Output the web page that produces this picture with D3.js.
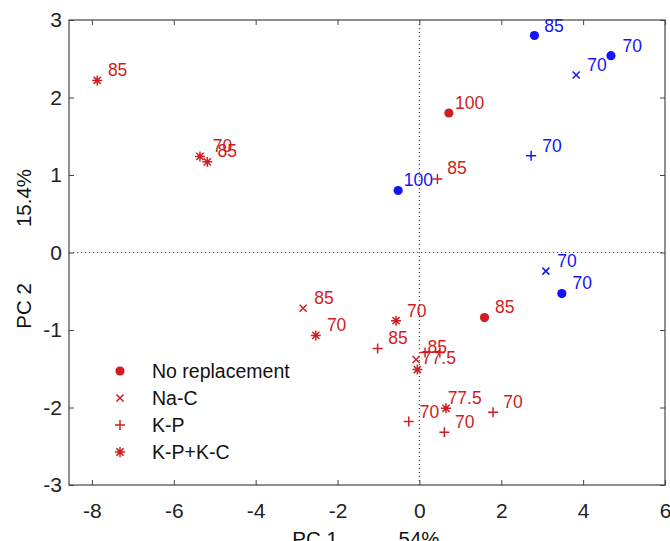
<!DOCTYPE html>
<html>
<head>
<meta charset="utf-8">
<script src="https://cdn.jsdelivr.net/npm/d3@7"></script>
<style>
body{margin:0;background:#fff;}
svg{display:block;font-family:"Liberation Sans",Arial,sans-serif;}
</style>
</head>
<body>
<svg id="scatter"></svg>
<script>
// legend / marker categories
var groups = ["No replacement","Na-C","K-P","K-P+K-C"];

// red series
var redType = ["K-P+K-C","K-P+K-C","K-P+K-C","No replacement","K-P","No replacement",
               "K-P+K-C","K-P","Na-C","K-P+K-C","Na-C","K-P+K-C","K-P","K-P",
               "K-P+K-C","K-P","K-P","K-P"];
var redX = [-7.87,-5.36,-5.18,0.72,0.44,1.59,-0.57,-1.02,-2.84,-2.53,-0.08,-0.05,0.14,0.50,0.65,1.80,-0.26,0.61];
var redY = [2.22,1.24,1.17,1.80,0.95,-0.84,-0.88,-1.24,-0.72,-1.07,-1.38,-1.51,-1.29,-1.29,-2.01,-2.06,-2.18,-2.32];
var redLabel = ["85","70","85","100","85","85","70","85","85","70","85","77.5","","","77.5","70","70","70"];
var redLabelX = [-7.61,-5.05,-4.93,0.87,0.68,1.85,-0.30,-0.76,-2.57,-2.26,0.20,0.06,0,0,0.69,2.05,0.01,0.87];
var redLabelY = [2.28,1.30,1.23,1.85,1.01,-0.78,-0.83,-1.18,-0.66,-1.01,-1.30,-1.44,0,0,-1.95,-2.00,-2.13,-2.26];

// blue series
var blueType = ["No replacement","No replacement","Na-C","K-P","No replacement","Na-C","No replacement"];
var blueX = [2.81,4.68,3.83,2.73,-0.52,3.09,3.48];
var blueY = [2.80,2.54,2.29,1.25,0.80,-0.24,-0.53];
var blueLabel = ["85","70","70","70","100","70","70"];
var blueLabelX = [3.05,4.96,4.10,3.00,-0.38,3.37,3.74];
var blueLabelY = [2.85,2.59,2.34,1.30,0.86,-0.19,-0.47];

// axes
var xTicks = [-8,-6,-4,-2,0,2,4,6];
var yTicks = [-3,-2,-1,0,1,2,3];

var red = "#d01d22";
var blue = "#1414f5";

var markerPath = function(type)
{
    if(type == "K-P") return "M-5,0H5M0,-5V5";
    if(type == "Na-C") return "M-3.5,-3.5L3.5,3.5M-3.5,3.5L3.5,-3.5";
    return "M-5,0H5M0,-5V5M-3.6,-3.6L3.6,3.6M-3.6,3.6L3.6,-3.6";
}

var drawMarker = function(sel,type,color)
{
    if(type == "No replacement")
    {
        sel.append("circle")
            .attr("r",4.6)
            .attr("fill",color);
    }
    else
    {
        sel.append("path")
            .attr("d",markerPath(type))
            .attr("fill","none")
            .attr("stroke",color)
            .attr("stroke-width",1.5);
    }
}

var toPoints = function(xs,ys,types,labels,lxs,lys,color)
{
    return xs.map(function(x,i)
    {
        return {x:x,y:ys[i],type:types[i],label:labels[i],lx:lxs[i],ly:lys[i],color:color};
    });
}

var initGraph = function(target)
{
    var screen = {width:670, height:541};
    var margins = {top:20,bottom:56,left:69,right:5};
    var graph =
    {
        width:screen.width-margins.left-margins.right,
        height:screen.height-margins.top-margins.bottom
    };

    var svg = d3.select(target)
        .attr("width",screen.width)
        .attr("height",screen.height);

    var xScale = d3.scaleLinear()
        .domain([-8.56,6])
        .range([margins.left,margins.left+graph.width]);

    var yScale = d3.scaleLinear()
        .domain([-3,3])
        .range([margins.top+graph.height,margins.top]);

    //zero lines
    svg.append("line")
        .attr("x1",xScale(0)).attr("x2",xScale(0))
        .attr("y1",yScale(3)).attr("y2",yScale(-3))
        .attr("stroke","#555").attr("stroke-width",1.2)
        .attr("stroke-dasharray","1.3,2.7");
    svg.append("line")
        .attr("x1",xScale(-8.56)).attr("x2",xScale(6))
        .attr("y1",yScale(0)).attr("y2",yScale(0))
        .attr("stroke","#555").attr("stroke-width",1.2)
        .attr("stroke-dasharray","1.3,2.7");

    var fmt = function(d){ return String(d); };

    var xAxis = d3.axisBottom(xScale).tickValues(xTicks).tickFormat(fmt)
        .tickSizeInner(-5).tickSizeOuter(0).tickPadding(18);
    var yAxis = d3.axisLeft(yScale).tickValues(yTicks).tickFormat(fmt)
        .tickSizeInner(-5).tickSizeOuter(0).tickPadding(7);
    var xTop = d3.axisTop(xScale).tickValues(xTicks).tickFormat("")
        .tickSizeInner(-5).tickSizeOuter(0);
    var yRight = d3.axisRight(yScale).tickValues(yTicks).tickFormat("")
        .tickSizeInner(-5).tickSizeOuter(0);

    var axes = svg.append("g");
    axes.append("g")
        .attr("transform","translate(0,"+(margins.top+graph.height)+")")
        .call(xAxis);
    axes.append("g")
        .attr("transform","translate("+margins.left+",0)")
        .call(yAxis);
    axes.append("g")
        .attr("transform","translate(0,"+margins.top+")")
        .call(xTop);
    axes.append("g")
        .attr("transform","translate("+(margins.left+graph.width)+",0)")
        .call(yRight);

    axes.selectAll(".domain").remove();
    axes.selectAll(".tick line").attr("stroke","#444");
    axes.selectAll(".tick text")
        .attr("font-size",21)
        .attr("fill","#222")
        .attr("font-family","Liberation Sans, Arial, sans-serif");

    //box
    svg.append("rect")
        .attr("x",margins.left).attr("y",margins.top)
        .attr("width",graph.width).attr("height",graph.height)
        .attr("fill","none").attr("stroke","#444").attr("stroke-width",1.2);

    //points
    var points = toPoints(redX,redY,redType,redLabel,redLabelX,redLabelY,red)
        .concat(toPoints(blueX,blueY,blueType,blueLabel,blueLabelX,blueLabelY,blue));

    var g = svg.append("g").classed("graph",true);

    g.selectAll("g.pt")
        .data(points)
        .enter()
        .append("g")
        .classed("pt",true)
        .attr("transform",function(d)
        {
            return "translate("+xScale(d.x)+","+yScale(d.y)+")";
        })
        .each(function(d)
        {
            drawMarker(d3.select(this),d.type,d.color);
        });

    g.selectAll("text.lbl")
        .data(points.filter(function(d){ return d.label != ""; }))
        .enter()
        .append("text")
        .classed("lbl",true)
        .attr("x",function(d){ return xScale(d.lx); })
        .attr("y",function(d){ return yScale(d.ly); })
        .attr("font-size",17.5)
        .attr("fill",function(d){ return d.color; })
        .text(function(d){ return d.label; });

    //legend
    var legend = svg.append("g")
        .attr("transform","translate(120,371)");
    var rows = legend.selectAll("g")
        .data(groups)
        .enter()
        .append("g")
        .attr("transform",function(d,i){ return "translate(0,"+(i*27)+")"; });
    rows.each(function(d)
    {
        drawMarker(d3.select(this),d,red);
    });
    rows.append("text")
        .attr("x",32)
        .attr("dy","0.35em")
        .attr("font-size",19.5)
        .attr("fill","#111")
        .text(function(d){ return d; });

    //axis titles
    svg.append("text")
        .attr("transform","translate(31,198) rotate(-90)")
        .attr("text-anchor","middle")
        .attr("font-size",20.5).attr("fill","#111")
        .text("15.4%");
    svg.append("text")
        .attr("transform","translate(31,306) rotate(-90)")
        .attr("text-anchor","middle")
        .attr("font-size",20.5).attr("fill","#111")
        .text("PC 2");
    svg.append("text")
        .attr("x",315).attr("y",546)
        .attr("text-anchor","middle")
        .attr("font-size",20.5).attr("fill","#111")
        .text("PC 1");
    svg.append("text")
        .attr("x",419).attr("y",546)
        .attr("text-anchor","middle")
        .attr("font-size",20.5).attr("fill","#111")
        .text("54%");
}

initGraph("#scatter");
</script>
</body>
</html>
